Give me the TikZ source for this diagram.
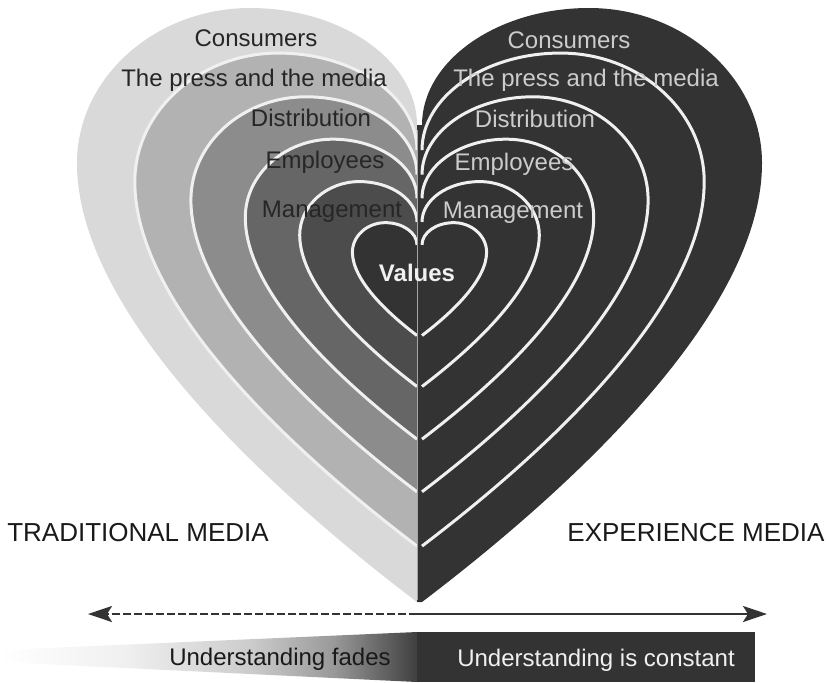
\documentclass[tikz,border=0pt]{standalone}
\usepackage{fontspec}
\setmainfont{Liberation Sans}
\usetikzlibrary{arrows.meta}

\definecolor{ringA}{gray}{0.85}
\definecolor{ringB}{gray}{0.70}
\definecolor{ringC}{gray}{0.55}
\definecolor{ringD}{gray}{0.40}
\definecolor{ringE}{gray}{0.30}
\definecolor{ringF}{gray}{0.20}

% one half of the heart, tip -> lobe -> notch, centre at (0,0)
\newcommand{\heartside}{(0,329) .. controls (-150,215) and (-340,40) .. (-340,-110)
  .. controls (-340,-195) and (-262,-265) .. (-167,-265)
  .. controls (-75,-265) and (0,-212) .. (0,-148)}

\pgfdeclarehorizontalshading{fadeshade}{100bp}{color(0bp)=(white); color(25bp)=(white);
  color(40bp)=(black!6); color(55bp)=(black!20); color(65bp)=(black!40);
  color(75bp)=(black!75); color(100bp)=(black!75)}

\tikzset{
  ringline/.style={draw=white!94!black, line width=1.5pt},
  lefttext/.style={text=black!85, font=\fontsize{12}{14}\selectfont, anchor=base},
  righttext/.style={text=black!20, font=\fontsize{12}{14}\selectfont, anchor=base},
  mediatext/.style={text=black!90, font=\fontsize{13}{15}\selectfont},
  axisline/.style={draw=ringF, line width=1.3pt},
}

\begin{document}
\begin{tikzpicture}[x=0.5pt, y=-0.5pt]
\useasboundingbox (0,0) rectangle (829,682);

% traditional side
\begin{scope}[shift={(417,273)}]
  \fill[ringA] \heartside -- cycle;
  \foreach \s/\c in {0.83/ringB, 0.665/ringC, 0.505/ringD, 0.345/ringE, 0.19/ringF}{
    \begin{scope}[scale=\s]
      \fill[\c] \heartside -- cycle;
      \draw[ringline] \heartside;
    \end{scope}
  }
\end{scope}

% experience side
\begin{scope}[shift={(422,273)}, xscale=-1]
  \fill[ringF] \heartside -- (5,-148) -- (5,329) -- cycle;
  \foreach \s in {0.83, 0.665, 0.505, 0.345, 0.19}
    \draw[ringline, scale=\s] \heartside;
\end{scope}
\draw[gray!70, line width=0.3pt] (417,130) -- (417,600);

% labels
\node[lefttext] (l-consumers) at (256,46.5) {Consumers};
\node[lefttext] (l-press) at (254,86.5) {The press and the media};
\node[lefttext] (l-distribution) at (311,126.5) {Distribution};
\node[lefttext] (l-employees) at (325,168.5) {Employees};
\node[lefttext] (l-management) at (332,217.5) {Management};
\node[righttext] (r-consumers) at (569,48.5) {Consumers};
\node[righttext] (r-press) at (586,86.5) {The press and the media};
\node[righttext] (r-distribution) at (535,127.5) {Distribution};
\node[righttext] (r-employees) at (514,170) {Employees};
\node[righttext] (r-management) at (513,218.5) {Management};
\node[anchor=base, text=white!94!black, font=\fontsize{12}{14}\selectfont\bfseries] (values) at (417,281) {Values};

\node[mediatext] (traditional) at (138,533) {TRADITIONAL MEDIA};
\node[mediatext] (experience) at (696,533) {EXPERIENCE MEDIA};

% axis
\coordinate (axis-mid) at (417,614);
\coordinate (axis-left) at (88,614);
\coordinate (axis-right) at (767,614);
\draw[axisline, dash pattern=on 4pt off 1.5pt, -{Stealth[length=12pt, width=8pt, inset=2.5pt]}] (axis-mid) -- (axis-left);
\draw[axisline, -{Stealth[length=12pt, width=8pt, inset=2.5pt]}] (axis-mid) -- (axis-right);

% understanding bars
\shade[shading=fadeshade] (0,650) -- (417,632) -- (417,682) -- (0,662) -- cycle;
\fill[ringF] (417,632) rectangle (755,682);
\node[anchor=base, text=black!90, font=\fontsize{12}{14}\selectfont] (fades) at (280,665) {Understanding fades};
\node[anchor=base, text=white!94!black, font=\fontsize{12}{14}\selectfont] (constant) at (596,666) {Understanding is constant};
\end{tikzpicture}
\end{document}
